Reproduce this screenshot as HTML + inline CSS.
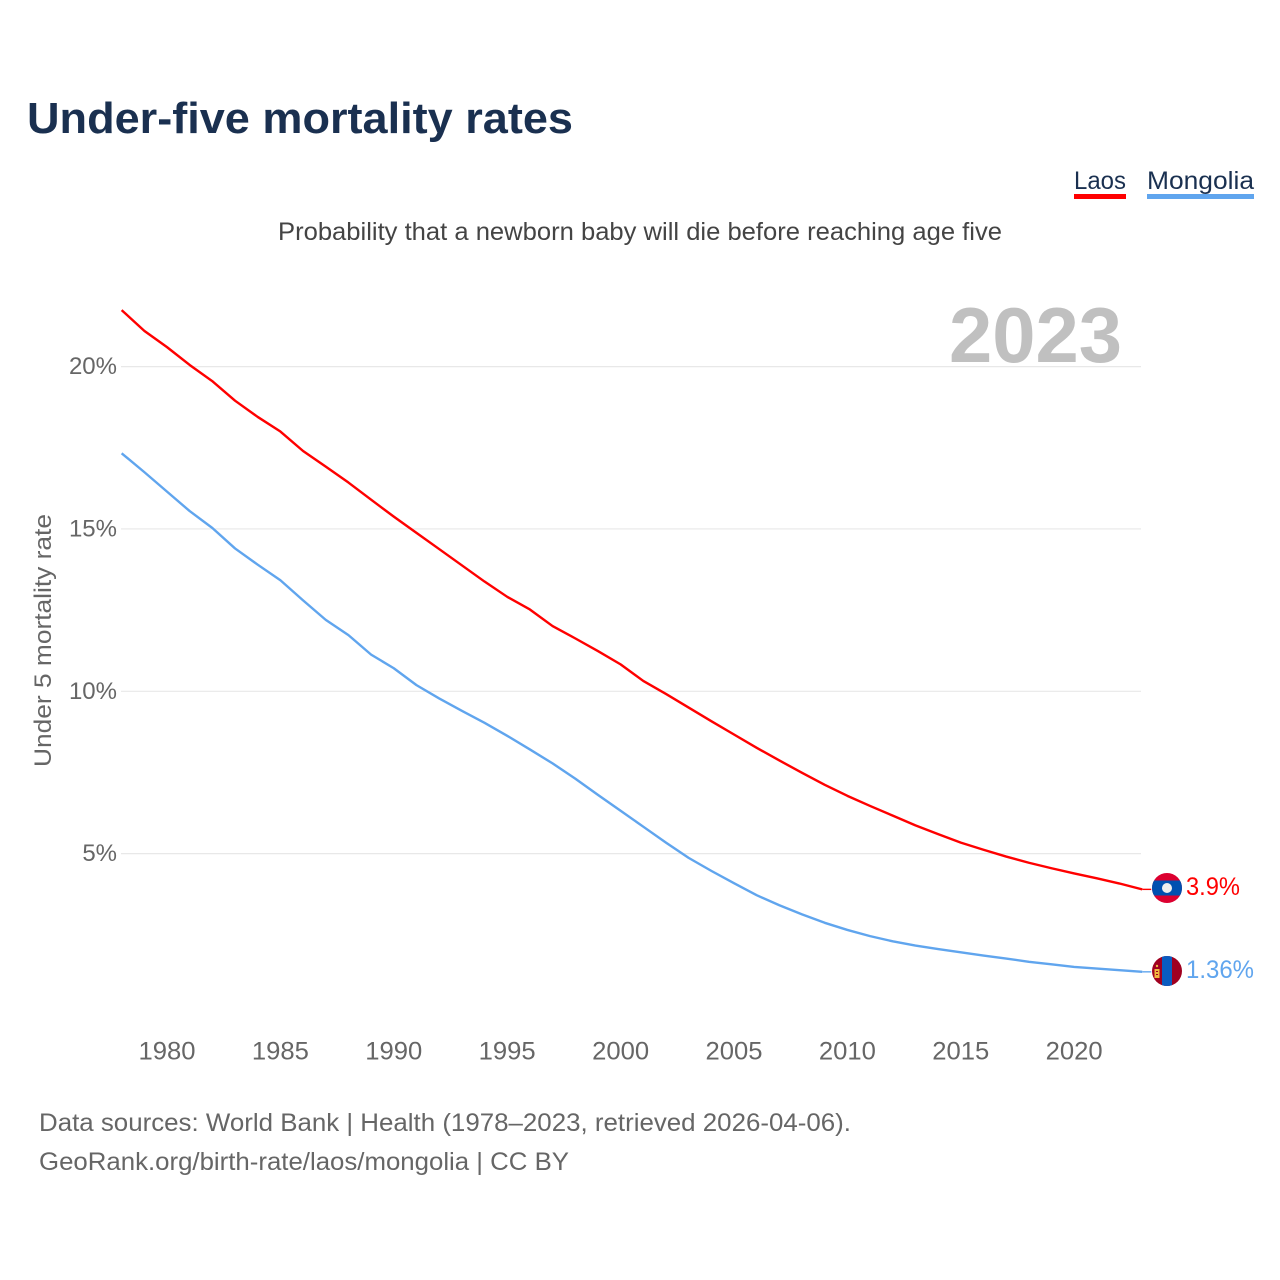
<!DOCTYPE html>
<html lang="en">
<head>
<meta charset="utf-8">
<title>Under-five mortality rates</title>
<style>
html,body{margin:0;padding:0;background:#fff}
svg{display:block}
text{font-family:"Liberation Sans",sans-serif}
</style>
</head>
<body>
<svg id="chart" xmlns="http://www.w3.org/2000/svg" width="1280" height="1280" viewBox="0 0 1280 1280">
  <rect width="1280" height="1280" fill="#fff"/>
  <text x="27" y="133" font-size="44" font-weight="700" fill="#1a3050" textLength="546" lengthAdjust="spacingAndGlyphs">Under-five mortality rates</text>
  <text x="1074" y="189" font-size="25" fill="#1a3050" textLength="52" lengthAdjust="spacingAndGlyphs">Laos</text>
  <rect x="1074" y="194" width="52" height="5" fill="#ff0000"/>
  <text x="1147" y="189" font-size="25" fill="#1a3050" textLength="107" lengthAdjust="spacingAndGlyphs">Mongolia</text>
  <rect x="1147" y="194" width="107" height="5" fill="#60a5ee"/>
  <text x="278" y="240" font-size="25" fill="#444" textLength="724" lengthAdjust="spacingAndGlyphs">Probability that a newborn baby will die before reaching age five</text>
  <g id="grid"></g>
  <g id="yticks"></g>
  <g id="xticks"></g>
  <text transform="translate(51,767) rotate(-90)" font-size="24" fill="#666" textLength="253" lengthAdjust="spacingAndGlyphs">Under 5 mortality rate</text>
  <text x="949" y="362" font-size="78" font-weight="700" fill="#c0c0c0" textLength="173" lengthAdjust="spacingAndGlyphs">2023</text>
  <g id="series"></g>
  <defs>
    <clipPath id="laos-clip"><circle id="laos-clip-circle" cx="1167" cy="888" r="15"/></clipPath>
    <clipPath id="mongolia-clip"><circle id="mongolia-clip-circle" cx="1167" cy="971" r="15"/></clipPath>
  </defs>
  <g id="flag-laos" clip-path="url(#laos-clip)">
    <rect x="1152" y="873" width="30" height="30" fill="#dc0030"/>
    <rect x="1152" y="880.5" width="30" height="15" fill="#0050b0"/>
    <circle cx="1167" cy="888" r="5" fill="#eeeeee"/>
  </g>
  <g id="flag-mongolia" clip-path="url(#mongolia-clip)">
    <rect x="1152" y="956" width="30" height="30" fill="#a00020"/>
    <rect x="1162" y="956" width="10" height="30" fill="#0a5cc0"/>
    <rect x="1154.5" y="969" width="5" height="9" fill="#f0b840"/>
    <rect x="1156" y="971" width="2" height="1" fill="#a00020"/>
    <rect x="1156" y="974" width="2" height="1" fill="#a00020"/>
    <circle cx="1157" cy="966" r="1.2" fill="#f0b840"/>
  </g>
  <text id="value-laos" x="1186" y="895" font-size="25" fill="#ff0000" textLength="54" lengthAdjust="spacingAndGlyphs">3.9%</text>
  <text id="value-mongolia" x="1186" y="978" font-size="25" fill="#60a5ee" textLength="68" lengthAdjust="spacingAndGlyphs">1.36%</text>
  <text x="39" y="1131" font-size="25" fill="#666" textLength="812" lengthAdjust="spacingAndGlyphs">Data sources: World Bank | Health (1978–2023, retrieved 2026-04-06).</text>
  <text x="39" y="1170" font-size="25" fill="#666" textLength="530" lengthAdjust="spacingAndGlyphs">GeoRank.org/birth-rate/laos/mongolia | CC BY</text>
</svg>
<script>
const years = [1978,1979,1980,1981,1982,1983,1984,1985,1986,1987,1988,1989,1990,1991,1992,1993,1994,1995,1996,1997,1998,1999,2000,2001,2002,2003,2004,2005,2006,2007,2008,2009,2010,2011,2012,2013,2014,2015,2016,2017,2018,2019,2020,2021,2022,2023];
const laosValues = [21.74,21.1,20.6,20.05,19.55,18.95,18.45,18.0,17.4,16.92,16.43,15.9,15.38,14.88,14.38,13.88,13.38,12.91,12.52,12.01,11.63,11.24,10.83,10.32,9.92,9.5,9.08,8.67,8.26,7.87,7.49,7.12,6.78,6.47,6.17,5.87,5.6,5.34,5.12,4.91,4.72,4.55,4.39,4.24,4.08,3.9];
const mongoliaValues = [17.33,16.75,16.15,15.55,15.03,14.4,13.9,13.42,12.8,12.2,11.73,11.13,10.71,10.19,9.78,9.4,9.03,8.63,8.21,7.78,7.31,6.81,6.32,5.83,5.34,4.87,4.47,4.09,3.72,3.41,3.13,2.87,2.65,2.46,2.3,2.17,2.06,1.96,1.86,1.77,1.67,1.59,1.51,1.46,1.41,1.36];
const yTickValues = [5,10,15,20];
const yTickLabels = ["5%","10%","15%","20%"];
const xTickValues = [1980,1985,1990,1995,2000,2005,2010,2015,2020];

const NS = "http://www.w3.org/2000/svg";
function xScale(year){ return 167 + (year - 1980) * 22.68; }
function yScale(value){ return 1016 - value * 32.47; }

function make(tag, attrs, parentId){
  const el = document.createElementNS(NS, tag);
  for (const k in attrs) el.setAttribute(k, attrs[k]);
  document.getElementById(parentId).appendChild(el);
  return el;
}

yTickValues.forEach(function(v, i){
  const line = make("line", {x1:121, x2:1141, y1:yScale(v), y2:yScale(v), stroke:"#e8e8e8", "stroke-width":1.2}, "grid");
  
  
  const t = make("text", {x:117, y:yScale(v) + 7.5, "text-anchor":"end", "font-size":24, fill:"#666"}, "yticks");
  
  
  t.textContent = yTickLabels[i];
});

xTickValues.forEach(function(y){
  const t = make("text", {x:xScale(y), y:1059.5, "text-anchor":"middle", "font-size":25, fill:"#666", textLength:57, lengthAdjust:"spacingAndGlyphs"}, "xticks");
  
  
  t.textContent = y;
});

function drawSeries(values, color, name){
  const d = values.map(function(v, i){
    return (i ? "L" : "M") + xScale(years[i]).toFixed(2) + " " + yScale(v).toFixed(2);
  }).join(" ");
  const path = make("path", {d:d, fill:"none", stroke:color, "stroke-width":2.4, "stroke-linejoin":"round"}, "series");
  
  
  const last = values[values.length - 1];
  const lastX = xScale(years[years.length - 1]);
  const conn = make("line", {x1:lastX, x2:lastX + 9, y1:yScale(last), y2:yScale(last), stroke:color, "stroke-width":1.4}, "series");
  
  
}
drawSeries(laosValues, "#ff0000", "laos-line");
drawSeries(mongoliaValues, "#60a5ee", "mongolia-line");
</script>
</body>
</html>
